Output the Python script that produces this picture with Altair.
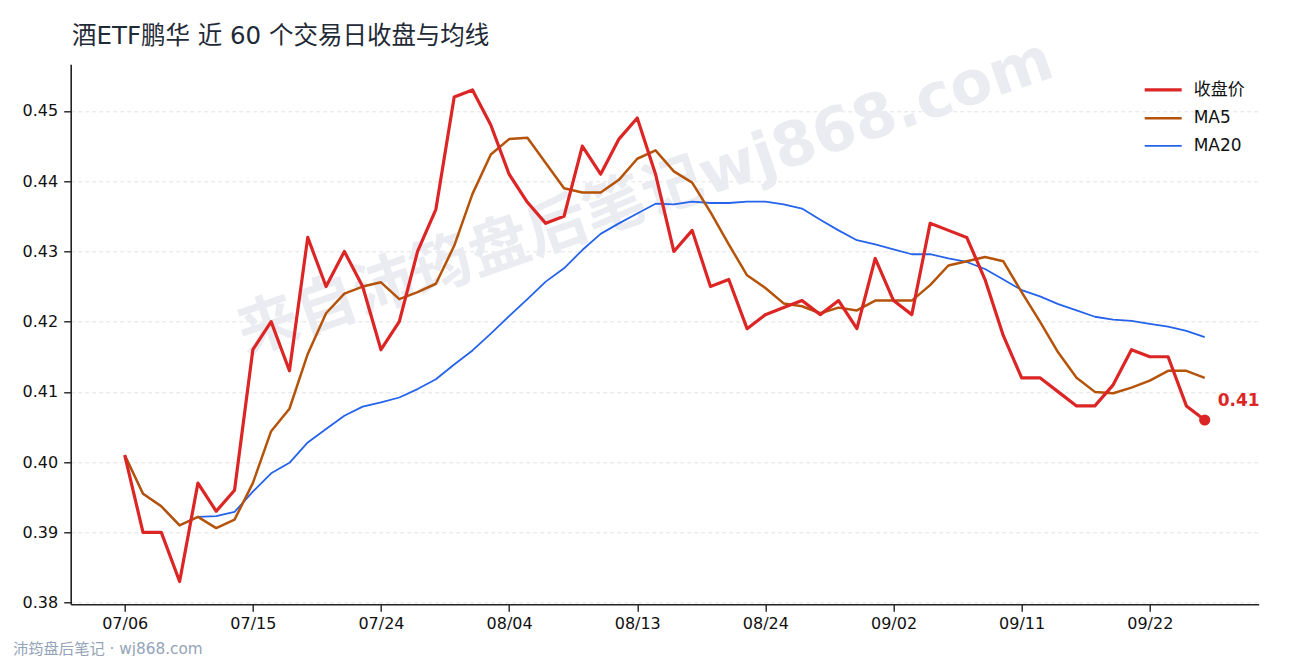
import json
import altair as alt
import pandas as pd

FONT = "DejaVu Sans, Noto Sans CJK SC"

dates = ["07/06", "07/07", "07/08", "07/09", "07/10",
         "07/13", "07/14", "07/15", "07/16", "07/17",
         "07/20", "07/21", "07/22", "07/23", "07/24",
         "07/27", "07/28", "07/29", "07/30", "07/31",
         "08/03", "08/04", "08/05", "08/06", "08/07",
         "08/10", "08/11", "08/12", "08/13", "08/14",
         "08/17", "08/18", "08/19", "08/20", "08/21",
         "08/24", "08/25", "08/26", "08/27", "08/28",
         "08/31", "09/01", "09/02", "09/03", "09/04",
         "09/07", "09/08", "09/09", "09/10", "09/11",
         "09/14", "09/15", "09/16", "09/17", "09/18",
         "09/21", "09/22", "09/23", "09/24", "09/25"]

close = [0.401, 0.390, 0.390, 0.383, 0.397, 0.393, 0.396, 0.416, 0.420, 0.413,
         0.432, 0.425, 0.430, 0.425, 0.416, 0.420, 0.430, 0.436, 0.452, 0.453,
         0.448, 0.441, 0.437, 0.434, 0.435, 0.445, 0.441, 0.446, 0.449, 0.441,
         0.430, 0.433, 0.425, 0.426, 0.419, 0.421, 0.422, 0.423, 0.421, 0.423,
         0.419, 0.429, 0.423, 0.421, 0.434, 0.433, 0.432, 0.426, 0.418, 0.412,
         0.412, 0.410, 0.408, 0.408, 0.411, 0.416, 0.415, 0.415, 0.408, 0.406]

ma5 = [0.401, 0.3955, 0.3937, 0.391, 0.3922, 0.3906, 0.3918, 0.397, 0.4044, 0.4076,
       0.4154, 0.4212, 0.424, 0.425, 0.4256, 0.4232, 0.4242, 0.4254, 0.4308, 0.4382,
       0.4438, 0.446, 0.4462, 0.4426, 0.439, 0.4384, 0.4384, 0.4402, 0.4432, 0.4444,
       0.4414, 0.4398, 0.4356, 0.431, 0.4266, 0.4248, 0.4226, 0.4222, 0.4212, 0.422,
       0.4216, 0.423, 0.423, 0.423, 0.4252, 0.428, 0.4286, 0.4292, 0.4286, 0.4242,
       0.420, 0.4156, 0.412, 0.410, 0.4098, 0.4106, 0.4116, 0.413, 0.413, 0.412]

ma20 = [0.401, 0.3955, 0.3937, 0.391, 0.3922, 0.3923, 0.3929, 0.3958, 0.3984, 0.3999,
        0.4028, 0.4047, 0.4066, 0.4079, 0.4085, 0.4092, 0.4104, 0.4118, 0.4139, 0.4159,
        0.4183, 0.4208, 0.4232, 0.4257, 0.4276, 0.4302, 0.4325, 0.434, 0.4354, 0.4368,
        0.4367, 0.4371, 0.4369, 0.4369, 0.4371, 0.4371, 0.4367, 0.4361, 0.4345, 0.433,
        0.4316, 0.431, 0.4303, 0.4296, 0.4296, 0.429, 0.4285, 0.4275, 0.426, 0.4245,
        0.4236, 0.4225, 0.4216, 0.4207, 0.4203, 0.4201, 0.4197, 0.4193, 0.4187, 0.4178]

series_names = ["收盘价", "MA5", "MA20"]
series_colors = ["#dc2626", "#b45309", "#2563eb"]
series_widths = [3.2, 1.8, 1.8]

x_tick_positions = [0, 7, 14, 21, 28, 35, 42, 49, 56]
y_ticks = [0.38, 0.39, 0.40, 0.41, 0.42, 0.43, 0.44, 0.45]

title_text = "酒ETF鹏华 近 60 个交易日收盘与均线"
watermark_text = "来自沛筠盘后笔记wj868.com"
footer_text = "沛筠盘后笔记 · wj868.com"

rows = []
for name, vals in [("MA20", ma20), ("MA5", ma5), ("收盘价", close)]:
    for i, v in enumerate(vals):
        rows.append({"i": i, "date": dates[i], "series": name, "value": v})
df = pd.DataFrame(rows)

x_enc = alt.X(
    "i:Q",
    scale=alt.Scale(domain=[-2.95, 61.95], nice=False, zero=False),
    axis=alt.Axis(values=x_tick_positions,
                  labelExpr=json.dumps(dates) + "[datum.value]",
                  title=None, grid=False, labelPadding=4),
)
y_enc = alt.Y(
    "value:Q",
    scale=alt.Scale(domain=[0.37975, 0.45665], nice=False, zero=False),
    axis=alt.Axis(values=y_ticks, format=".2f", title=None, grid=True,
                  gridDash=[4, 3], gridColor="#dadada", gridWidth=0.8,
                  labelPadding=6),
)

legend = alt.Legend(title=None, orient="none", legendX=1072, legendY=5,
                    symbolType="stroke", symbolSize=1369,
                    labelFont=FONT, labelFontSize=17, labelColor="#111111",
                    labelOffset=10, rowPadding=-3)

color_enc = alt.Color("series:N",
                      scale=alt.Scale(domain=series_names, range=series_colors),
                      legend=legend)
width_enc = alt.StrokeWidth("series:N",
                            scale=alt.Scale(domain=series_names, range=series_widths),
                            legend=legend)

base = alt.Chart(df)

watermark = alt.Chart(pd.DataFrame({"t": [watermark_text]})).mark_text(
    angle=341, fontSize=61, fontWeight="bold", color="#eaecf1", font=FONT,
    align="center", baseline="middle"
).encode(x=alt.value(575), y=alt.value(134), text="t:N")

title = alt.Chart(pd.DataFrame({"t": [title_text]})).mark_text(
    align="left", baseline="middle", fontSize=24.5, color="#1f2a37", font=FONT
).encode(x=alt.value(1.3), y=alt.value(-27.3), text="t:N")

def line_layer(name):
    return base.transform_filter(alt.datum.series == name).mark_line(
        strokeJoin="round"
    ).encode(x=x_enc, y=y_enc, color=color_enc, strokeWidth=width_enc)

last = base.transform_filter(
    (alt.datum.series == "收盘价") & (alt.datum.i == len(close) - 1)
)
end_point = last.mark_circle(size=125, color="#dc2626", opacity=1).encode(
    x=x_enc, y=y_enc)
end_label = last.mark_text(
    align="left", baseline="middle", dx=13, dy=-19, fontSize=17,
    fontWeight="bold", color="#dc2626", font=FONT
).encode(x=x_enc, y=y_enc, text=alt.Text("value:Q", format=".2f"))

footer = alt.Chart(pd.DataFrame({"t": [footer_text]})).mark_text(
    align="left", baseline="middle", fontSize=15.3, color="#94a3b8", font=FONT
).encode(x=alt.value(-57.7), y=alt.value(584.5), text="t:N")

chart = alt.layer(
    watermark,
    line_layer("MA20"),
    line_layer("MA5"),
    line_layer("收盘价"),
    end_point,
    end_label,
    title,
    footer,
).properties(
    width=1188,
    height=540,
    autosize=alt.AutoSizeParams(type="none"),
    padding={"left": 62.7, "top": 56.3, "right": 23.3, "bottom": 52},
    background="white",
).configure_view(
    strokeWidth=0
).configure_axis(
    domainColor="#222222", domainWidth=1.6,
    tickColor="#222222", tickWidth=1.4, tickSize=7,
    labelFont=FONT, labelFontSize=16, labelColor="#111111",
)

chart.save("out.html", embed_options={"renderer": "svg", "actions": False})
